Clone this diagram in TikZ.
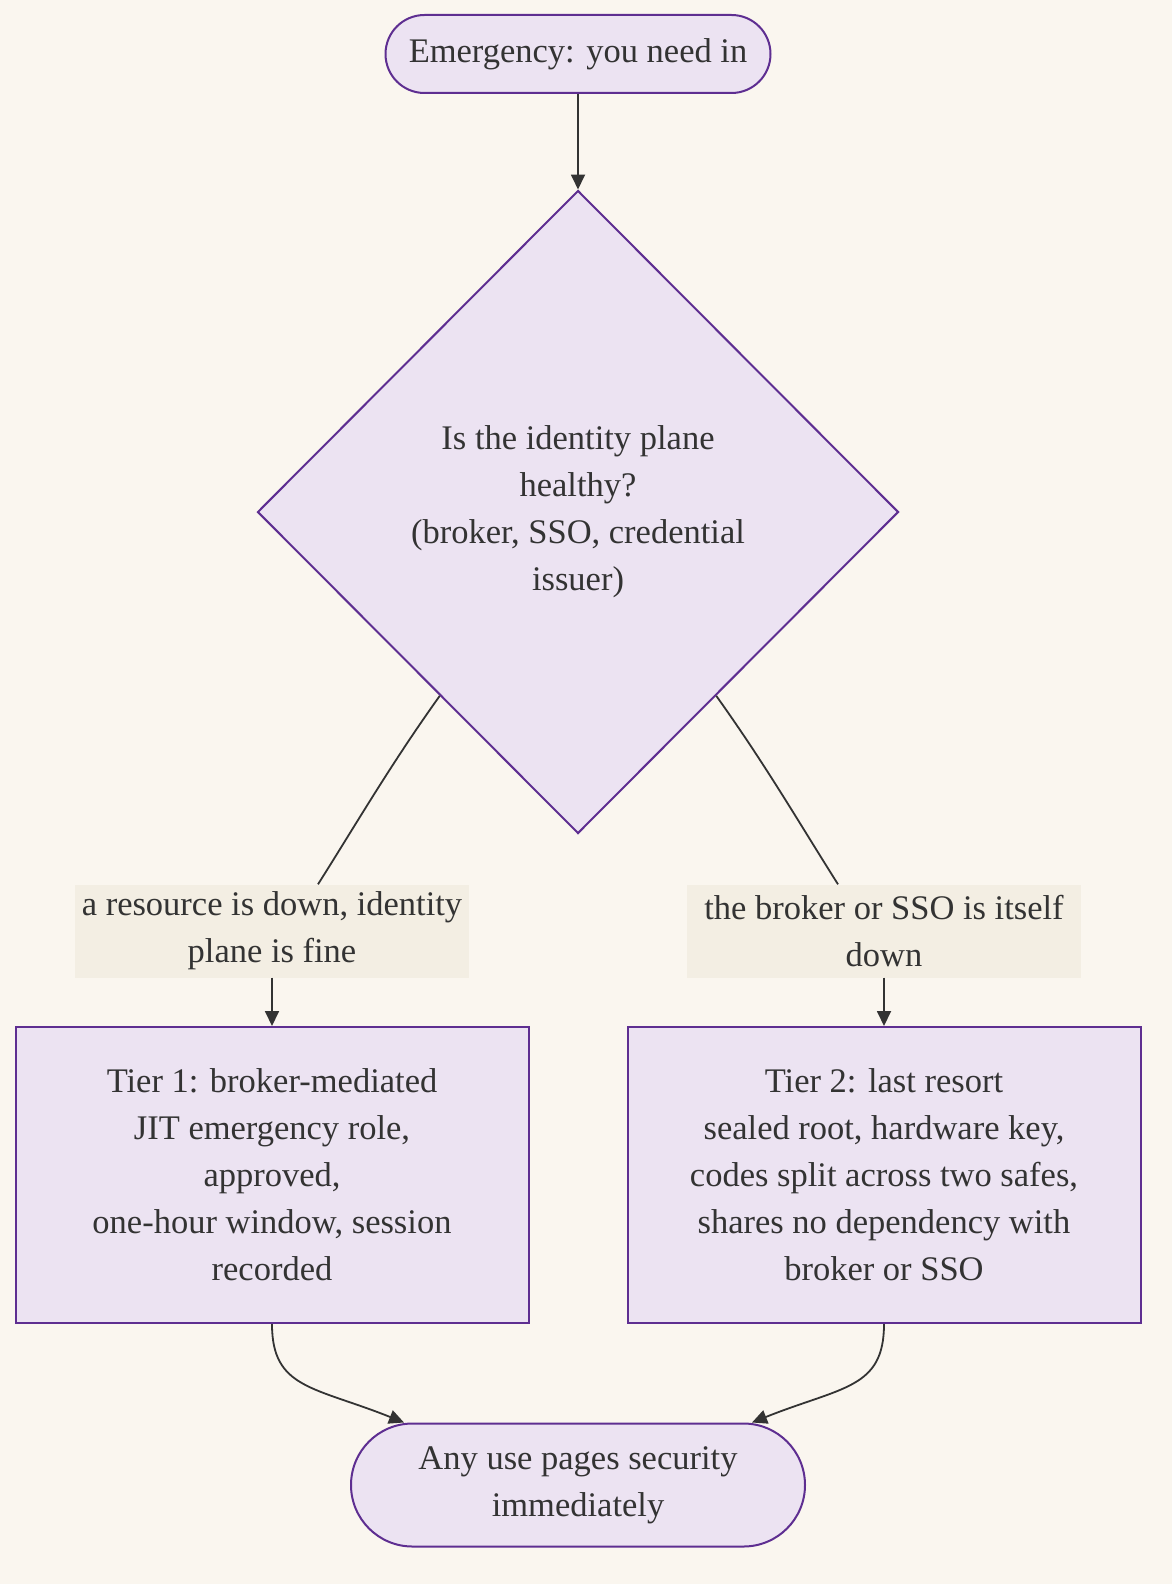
\documentclass[tikz,border=0pt]{standalone}
\usepackage{fontspec}
\setmainfont{Liberation Serif}
\usetikzlibrary{shapes.geometric,arrows.meta,calc}
\definecolor{paper}{HTML}{FAF6EF}
\definecolor{boxfill}{HTML}{ECE3F2}
\definecolor{boxline}{HTML}{5E2E91}
\definecolor{tagfill}{HTML}{F3EEE3}
\definecolor{ink}{HTML}{333333}

\begin{document}
\begin{tikzpicture}[x=1pt,y=-1pt,
  txt/.style={text=ink,align=center,inner sep=0pt,font=\fontsize{34.5}{47}\selectfont},
  box/.style={txt,draw=boxline,fill=boxfill,line width=2pt},
  pill/.style={box,rectangle,rounded corners=#1},
  tag/.style={txt,fill=tagfill,minimum width=394,minimum height=93},
  link/.style={draw=ink,line width=1.8pt},
  arrow/.style={link,-{Triangle[length=15pt,width=14pt]}}]
\path[use as bounding box] (0,0) rectangle (1172,1584);
\fill[paper] (0,0) rectangle (1172,1584);

\node[pill=39,minimum width=385,minimum height=78] (start) at (578,54) {Emergency: you need in};
\node[box,diamond,minimum width=641,minimum height=643] (dec) at (578,512) {Is the identity plane\\healthy?\\(broker, SSO, credential\\issuer)};
\node[tag] (lab1) at (272,931) {a resource is down, identity\\plane is fine};
\node[tag] (lab2) at (884,931) {the broker or SSO is itself\\down};
\node[box,minimum width=513,minimum height=296] (tier1) at (272,1175) {Tier 1: broker-mediated\\JIT emergency role,\\approved,\\one-hour window, session\\recorded};
\node[box,minimum width=513,minimum height=296] (tier2) at (884,1175) {Tier 2: last resort\\sealed root, hardware key,\\codes split across two safes,\\shares no dependency with\\broker or SSO};
\node[pill=61.5,minimum width=454,minimum height=123] (done) at (578,1485) {Any use pages security\\immediately};

% start to decision
\draw[arrow] (start) -- (dec.north);

% decision branches, through their labels
\coordinate (dA) at ($(dec.west)!0.57!(dec.south)$);
\coordinate (dB) at ($(dec.east)!0.57!(dec.south)$);
\draw[link] (dA) .. controls ($(dA)+(-50,70)$) and ($(lab1.north)+(84,-60)$) .. ($(lab1.north)+(46,0)$);
\draw[link] (dB) .. controls ($(dB)+(50,70)$) and ($(lab2.north)+(-84,-60)$) .. ($(lab2.north)+(-46,0)$);
\draw[arrow] (lab1.south) -- (tier1.north);
\draw[arrow] (lab2.south) -- (tier2.north);

% both tiers end in the alert
\draw[arrow] (tier1.south) .. controls ($(tier1.south)+(0,65)$) and ($(done.north)+(-264,-36)$) .. ($(done.north)+(-174,0)$);
\draw[arrow] (tier2.south) .. controls ($(tier2.south)+(0,65)$) and ($(done.north)+(264,-36)$) .. ($(done.north)+(174,0)$);
\end{tikzpicture}
\end{document}
